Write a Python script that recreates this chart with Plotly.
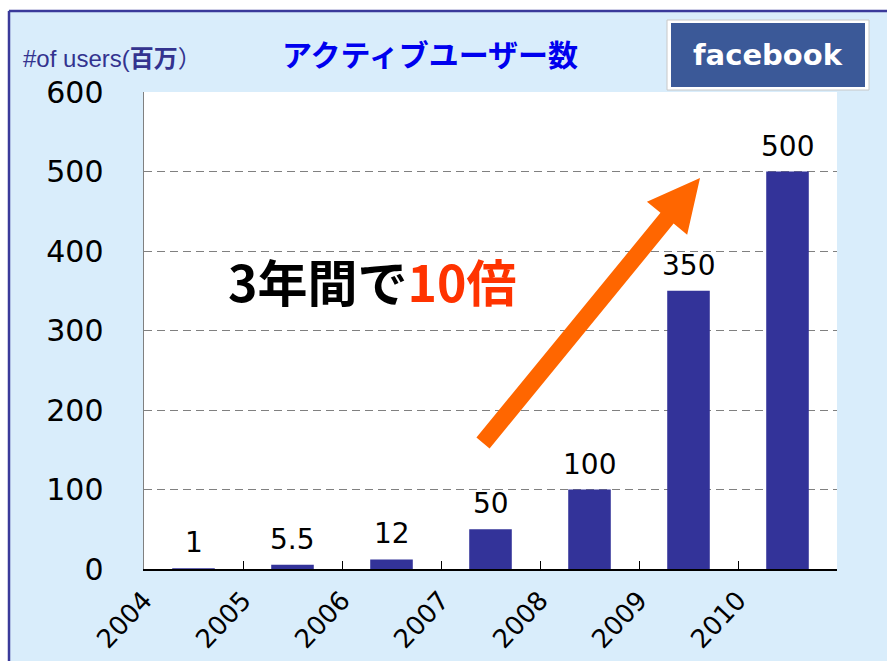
import plotly.graph_objects as go

# ---- data ----
years = ["2004", "2005", "2006", "2007", "2008", "2009", "2010"]
users = [1, 5.5, 12, 50, 100, 350, 500]
value_labels = ["1", "5.5", "12", "50", "100", "350", "500"]
y_ticks = [0, 100, 200, 300, 400, 500, 600]

W, H = 887, 661
L, R, T, B = 144, 50, 92, 92
PW, PH = W - L - R, H - T - B
YMAX = 600
NCAT = len(years)


def px2paper(px, py):
    return (px - L) / PW, (H - B - py) / PH


def px2data(px, py):
    return (px - L) / PW * NCAT, (H - B - py) / PH * YMAX


BAR = "#333399"
BG = "#D9EDFB"
BORDER = "#3A3A9A"

x_pos = [i + 0.5 for i in range(NCAT)]

fig = go.Figure()
fig.add_trace(go.Bar(
    x=x_pos, y=users, width=0.43,
    marker=dict(color=BAR, line=dict(width=0)),
    hoverinfo="skip",
))

annotations = []
for xv, v, lab in zip(x_pos, users, value_labels):
    annotations.append(dict(
        x=xv, y=v, xref="x", yref="y", text=lab, showarrow=False,
        yanchor="bottom", yshift=7,
        font=dict(family="DejaVu Sans", size=28, color="black"),
    ))

# title
tx, ty = px2paper(430, 53)
annotations.append(dict(
    x=tx, y=ty, xref="paper", yref="paper", xanchor="center", yanchor="middle",
    text="<b>アクティブユーザー数</b>", showarrow=False,
    font=dict(family="Noto Sans CJK JP", size=30, color="#0000EE"),
))
# y-axis unit label
ux, uy = px2paper(21, 58)
annotations.append(dict(
    x=ux, y=uy, xref="paper", yref="paper", xanchor="left", yanchor="middle",
    text="#of users(<b>百万</b>）", showarrow=False,
    font=dict(family="Liberation Sans, Noto Sans CJK JP", size=24, color="#33338F"),
))
# callout text
cx, cy = px2paper(372, 280)
annotations.append(dict(
    x=cx, y=cy, xref="paper", yref="paper", xanchor="center", yanchor="middle",
    text="<b>3年間で<span style='color:#FF3300'>10倍</span></b>", showarrow=False,
    font=dict(family="Noto Sans CJK JP", size=50, color="black"),
))
# facebook logo text
fx, fy = px2paper(768, 55)
annotations.append(dict(
    x=fx, y=fy, xref="paper", yref="paper", xanchor="center", yanchor="middle",
    text="<b>facebook</b>", showarrow=False,
    font=dict(family="DejaVu Sans", size=29, color="white"),
))

shapes = []
# white strips outside the frame + frame lines
x0, y0 = px2paper(0, 0)
x1, y1 = px2paper(W, 10)
shapes.append(dict(type="rect", xref="paper", yref="paper", x0=x0, y0=y0, x1=x1, y1=y1,
                   fillcolor="white", line=dict(width=0), layer="below"))
x0, y0 = px2paper(0, 0)
x1, y1 = px2paper(8, H)
shapes.append(dict(type="rect", xref="paper", yref="paper", x0=x0, y0=y0, x1=x1, y1=y1,
                   fillcolor="white", line=dict(width=0), layer="below"))
a0, b0 = px2paper(9, 11)
a1, b1 = px2paper(W, 11)
shapes.append(dict(type="line", xref="paper", yref="paper", x0=a0, y0=b0, x1=a1, y1=b1,
                   line=dict(color=BORDER, width=2.5)))
a1, b1 = px2paper(9, H)
shapes.append(dict(type="line", xref="paper", yref="paper", x0=a0, y0=b0, x1=a1, y1=b1,
                   line=dict(color=BORDER, width=2.5)))
# facebook logo box
a0, b0 = px2paper(667, 20)
a1, b1 = px2paper(869, 90)
shapes.append(dict(type="rect", xref="paper", yref="paper", x0=a0, y0=b0, x1=a1, y1=b1,
                   fillcolor="white", line=dict(color="#C8C8C8", width=1)))
a0, b0 = px2paper(671, 23)
a1, b1 = px2paper(865, 87)
shapes.append(dict(type="rect", xref="paper", yref="paper", x0=a0, y0=b0, x1=a1, y1=b1,
                   fillcolor="#3B5998", line=dict(width=0)))

# orange arrow polygon
tail = (483, 443)
tip = (700, 178)
dx, dy = tip[0] - tail[0], tip[1] - tail[1]
ln = (dx * dx + dy * dy) ** 0.5
ux_, uy_ = dx / ln, dy / ln
nx_, ny_ = -uy_, ux_
sh, hh, hl = 8.5, 26, 52
bx, by = tip[0] - hl * ux_, tip[1] - hl * uy_
pts = [
    (tail[0] + nx_ * sh, tail[1] + ny_ * sh),
    (bx + nx_ * sh, by + ny_ * sh),
    (bx + nx_ * hh, by + ny_ * hh),
    tip,
    (bx - nx_ * hh, by - ny_ * hh),
    (bx - nx_ * sh, by - ny_ * sh),
    (tail[0] - nx_ * sh, tail[1] - ny_ * sh),
]
dpts = [px2data(*p) for p in pts]
path = "M " + " L ".join(f"{p[0]:.4f},{p[1]:.4f}" for p in dpts) + " Z"
shapes.append(dict(type="path", xref="x", yref="y", path=path,
                   fillcolor="#FF6600", line=dict(width=0), layer="above"))

fig.update_layout(
    width=W, height=H, autosize=False,
    margin=dict(l=L, r=R, t=T, b=B, pad=0, autoexpand=False),
    paper_bgcolor=BG, plot_bgcolor="white",
    showlegend=False,
    annotations=annotations, shapes=shapes,
    xaxis=dict(
        range=[0, NCAT], tickmode="array",
        tickvals=list(range(NCAT + 1)), ticktext=years + [""],
        ticks="inside", ticklen=8, tickcolor="black", tickwidth=1,
        showline=True, linecolor="black", linewidth=1.5,
        showgrid=False, zeroline=False, tickangle=-47,
        tickfont=dict(family="DejaVu Sans", size=26, color="black"),
        ticklabelstandoff=4, automargin=False,
    ),
    yaxis=dict(
        range=[0, YMAX], tickmode="array", tickvals=y_ticks,
        ticks="", showline=True, linecolor="#808080", linewidth=1.5,
        showgrid=True, gridcolor="#808080", gridwidth=1, griddash="8px,5px",
        zeroline=False,
        tickfont=dict(family="DejaVu Sans", size=30, color="black"),
        ticklabelstandoff=33, automargin=False,
    ),
)

fig.write_html(
    "out.html",
    config={"displayModeBar": False, "staticPlot": True},
    post_script="document.body.style.margin='0';document.body.style.overflow='hidden';",
)
